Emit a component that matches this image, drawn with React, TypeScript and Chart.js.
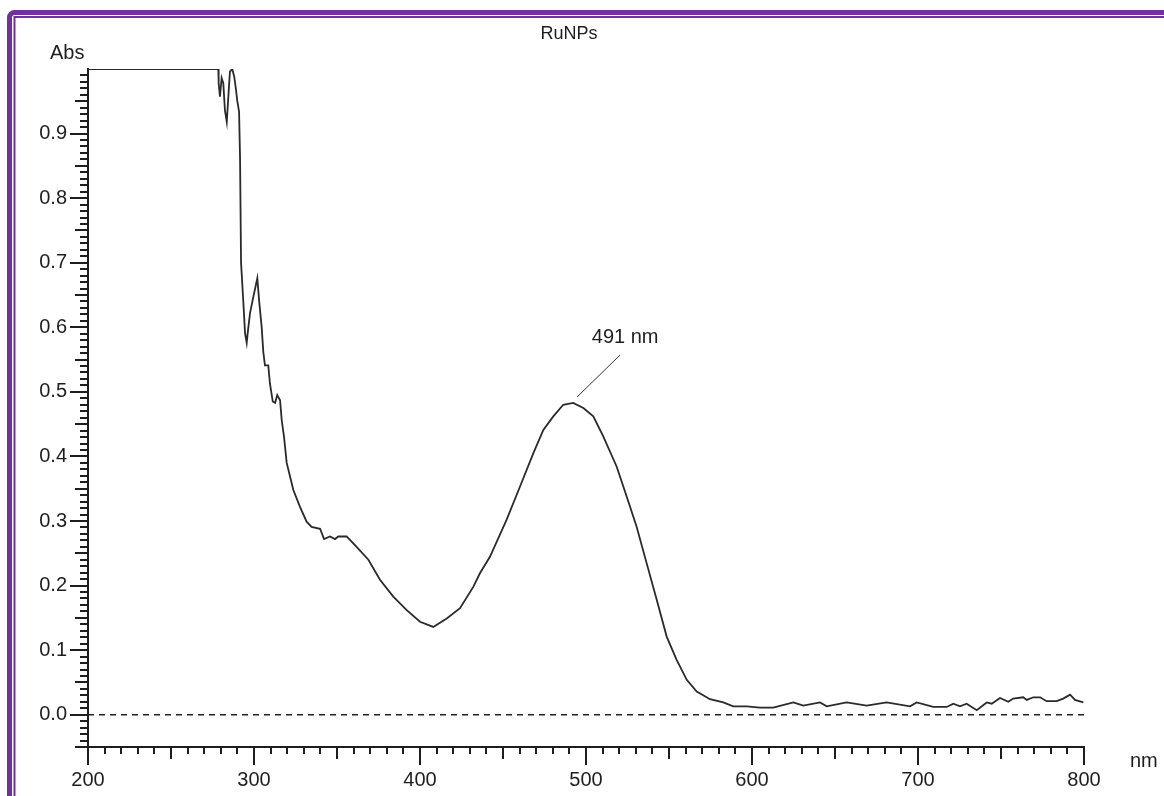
import React, { useEffect, useRef } from 'react';
import { Chart, registerables } from 'chart.js';

Chart.register(...registerables);

// ---- data ----
const chartTitle = 'RuNPs';
const yAxisTitle = 'Abs';
const xAxisTitle = 'nm';

const wavelengths = [
  200, 278.5, 278.7, 279.5, 280.5, 281.5, 282.5, 283.6, 284.5, 285.5, 286.9, 288.1,
  289.2, 289.9, 291.0, 291.6, 292.2, 293.6, 294.6, 295.6, 296.2, 297.6, 299.6, 302.0,
  303.2, 304.6, 305.6, 306.6, 308.6, 309.6, 311.3, 312.7, 314.0, 315.7, 316.7, 318.1,
  319.7, 323.7, 327.7, 331.7, 334.7, 339.8, 342.2, 345.8, 348.8, 350.8, 355.8, 361.8,
  368.9, 375.9, 383.9, 392.0, 400.0, 408.0, 416.1, 424.1, 432.1, 436.1, 442.2, 452.2,
  460.2, 468.3, 474.3, 480.3, 486.3, 492.3, 498.4, 504.4, 510.4, 518.5, 524.5, 530.5,
  536.6, 542.6, 548.6, 554.6, 560.7, 566.7, 574.7, 582.7, 588.7, 596.8, 604.8, 612.8,
  624.9, 630.9, 641.0, 645.0, 657.0, 669.1, 681.1, 695.2, 699.2, 709.2, 717.3, 721.3,
  725.3, 729.3, 735.4, 741.4, 744.4, 749.4, 754.4, 757.4, 763.4, 765.5, 769.5, 773.5,
  777.5, 783.5, 787.5, 791.6, 794.6, 799.6,
];

const absorbance = [
  1.0, 1.0, 0.978, 0.957, 0.986, 0.978, 0.936, 0.918, 0.955, 0.996, 1.0, 0.988,
  0.967, 0.951, 0.934, 0.862, 0.700, 0.638, 0.591, 0.576, 0.591, 0.622, 0.647, 0.676,
  0.638, 0.601, 0.562, 0.541, 0.541, 0.513, 0.485, 0.483, 0.495, 0.487, 0.456, 0.430,
  0.390, 0.348, 0.322, 0.299, 0.291, 0.288, 0.272, 0.276, 0.272, 0.276, 0.276, 0.260,
  0.240, 0.209, 0.183, 0.162, 0.144, 0.136, 0.149, 0.165, 0.198, 0.219, 0.245, 0.302,
  0.353, 0.405, 0.441, 0.462, 0.480, 0.483, 0.475, 0.462, 0.431, 0.384, 0.338, 0.291,
  0.234, 0.178, 0.121, 0.085, 0.054, 0.036, 0.024, 0.019, 0.013, 0.013, 0.011, 0.011,
  0.019, 0.014, 0.019, 0.013, 0.019, 0.014, 0.019, 0.013, 0.019, 0.012, 0.012, 0.017,
  0.013, 0.017, 0.007, 0.019, 0.017, 0.026, 0.020, 0.025, 0.027, 0.023, 0.027, 0.027,
  0.021, 0.021, 0.025, 0.031, 0.023, 0.019,
];

const baselineWavelengths = [200, 800];
const baselineValues = [0, 0];

const xTickLabels = [200, 300, 400, 500, 600, 700, 800];
const yTickLabels = [0.0, 0.1, 0.2, 0.3, 0.4, 0.5, 0.6, 0.7, 0.8, 0.9];

const peakLabel = '491 nm';
const peakLeaderFrom = [494.6, 0.492];
const peakLeaderTo = [520.5, 0.557];
const peakTextAt = [503.5, 0.576];

const X_MIN = 200;
const X_MAX = 800;
const Y_MIN = -0.05;
const Y_MAX = 1.0;

const FONT = "'Liberation Sans', Arial, sans-serif";
const INK = '#1e1e1e';
const PURPLE = '#7030a0';

const decorPlugin = {
  id: 'decor',
  afterDraw(chart: any) {
    const ctx = chart.ctx;
    const xs = chart.scales.x;
    const ys = chart.scales.y;
    const area = chart.chartArea;
    ctx.save();

    // minor / medium / major ticks
    ctx.strokeStyle = INK;
    ctx.lineWidth = 2;
    ctx.beginPath();
    for (let i = -5; i <= 99; i++) {
      const len = i % 10 === 0 ? 18 : i % 5 === 0 ? 13 : 8;
      const y = Math.round(ys.getPixelForValue(i / 100));
      ctx.moveTo(area.left, y);
      ctx.lineTo(area.left - len, y);
    }
    for (let v = X_MIN; v <= X_MAX; v += 10) {
      const len = v % 100 === 0 ? 18 : v % 50 === 0 ? 12 : 7;
      const x = Math.round(xs.getPixelForValue(v));
      ctx.moveTo(x, area.bottom);
      ctx.lineTo(x, area.bottom + len);
    }
    ctx.stroke();

    // peak annotation
    ctx.lineWidth = 1;
    ctx.strokeStyle = '#333';
    ctx.beginPath();
    ctx.moveTo(xs.getPixelForValue(peakLeaderFrom[0]), ys.getPixelForValue(peakLeaderFrom[1]));
    ctx.lineTo(xs.getPixelForValue(peakLeaderTo[0]), ys.getPixelForValue(peakLeaderTo[1]));
    ctx.stroke();

    ctx.fillStyle = INK;
    ctx.textBaseline = 'alphabetic';
    ctx.textAlign = 'left';
    ctx.font = `20px ${FONT}`;
    ctx.fillText(peakLabel, xs.getPixelForValue(peakTextAt[0]), ys.getPixelForValue(peakTextAt[1]));

    // titles
    ctx.fillText(yAxisTitle, 50, 59);
    ctx.fillText(xAxisTitle, 1130, 767);
    ctx.textAlign = 'center';
    ctx.font = `18px ${FONT}`;
    ctx.fillText(chartTitle, 569, 39);

    // purple frame
    ctx.strokeStyle = PURPLE;
    ctx.lineWidth = 5;
    ctx.beginPath();
    const r = 5;
    ctx.moveTo(9.5, 820);
    ctx.lineTo(9.5, 12.5 + r);
    ctx.arcTo(9.5, 12.5, 9.5 + r, 12.5, r);
    ctx.lineTo(1200, 12.5);
    ctx.stroke();
    ctx.lineWidth = 2;
    ctx.beginPath();
    ctx.moveTo(14.5, 820);
    ctx.lineTo(14.5, 17);
    ctx.lineTo(1200, 17);
    ctx.stroke();

    ctx.restore();
  },
};

export default function App() {
  const canvasRef = useRef<HTMLCanvasElement | null>(null);

  useEffect(() => {
    document.body.style.margin = '0';
    const canvas = canvasRef.current;
    if (!canvas) return;

    const spectrum = wavelengths.map((x, i) => ({ x, y: absorbance[i] }));
    const baseline = baselineWavelengths.map((x, i) => ({ x, y: baselineValues[i] }));

    const chart = new Chart(canvas, {
      type: 'line',
      data: {
        datasets: [
          {
            data: spectrum,
            borderColor: '#2a2a2a',
            borderWidth: 1.8,
            pointRadius: 0,
            tension: 0,
            fill: false,
          },
          {
            data: baseline,
            borderColor: '#222',
            borderWidth: 1.6,
            borderDash: [6, 5],
            pointRadius: 0,
            fill: false,
          },
        ],
      },
      options: {
        animation: false,
        responsive: false,
        devicePixelRatio: 1,
        parsing: false,
        normalized: true,
        layout: { autoPadding: false, padding: { left: 0, top: 69, right: 80, bottom: 0 } },
        plugins: {
          legend: { display: false },
          title: { display: false },
          tooltip: { enabled: false },
        },
        scales: {
          x: {
            type: 'linear',
            min: X_MIN,
            max: X_MAX,
            grid: { display: false, drawTicks: false },
            border: { display: true, color: INK, width: 2 },
            afterBuildTicks: (s: any) => {
              s.ticks = xTickLabels.map((v) => ({ value: v }));
            },
            afterFit: (s: any) => {
              s.height = 49;
              s.paddingLeft = 0;
              s.paddingRight = 0;
            },
            ticks: {
              autoSkip: false,
              maxRotation: 0,
              padding: 21,
              color: INK,
              font: { family: FONT, size: 20 },
              callback: (v: any) => String(v),
            },
          },
          y: {
            type: 'linear',
            min: Y_MIN,
            max: Y_MAX,
            grid: { display: false, drawTicks: false },
            border: { display: true, color: INK, width: 2 },
            afterBuildTicks: (s: any) => {
              s.ticks = yTickLabels.map((v) => ({ value: v }));
            },
            afterFit: (s: any) => {
              s.width = 88;
              s.paddingTop = 0;
              s.paddingBottom = 0;
            },
            ticks: {
              autoSkip: false,
              padding: 21,
              color: INK,
              font: { family: FONT, size: 20 },
              callback: (v: any) => Number(v).toFixed(1),
            },
          },
        },
      },
      plugins: [decorPlugin],
    });

    return () => chart.destroy();
  }, []);

  return (
    <div style={{ position: 'absolute', left: 0, top: 0, width: 1164, height: 796, background: '#fff' }}>
      <canvas ref={canvasRef} width={1164} height={796} style={{ display: 'block' }} />
    </div>
  );
}
